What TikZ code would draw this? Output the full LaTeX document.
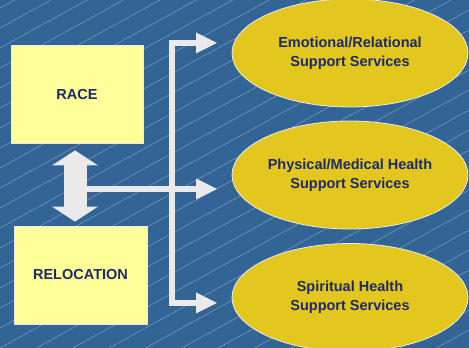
\documentclass[tikz,border=0pt]{standalone}
\usepackage{fontspec}
\setmainfont{Liberation Sans}
\usetikzlibrary{arrows.meta,shapes.geometric}
\definecolor{slideblue}{RGB}{51,100,150}
\definecolor{boxyellow}{RGB}{255,255,153}
\definecolor{ovalgold}{RGB}{227,198,30}
\definecolor{inkblue}{RGB}{28,42,105}
\definecolor{arrowgrey}{RGB}{234,234,234}
\tikzset{
    factor/.style={
        draw=arrowgrey,
        line width=0.8pt,
        fill=boxyellow,
        minimum width=132pt,
        minimum height=98pt,
        text=inkblue,
        font=\bfseries\fontsize{14.5}{18}\selectfont
    },
    service/.style={
        ellipse,
        draw=arrowgrey,
        line width=0.8pt,
        fill=ovalgold,
        minimum width=236pt,
        minimum height=108pt,
        inner sep=0pt,
        align=center,
        text=inkblue,
        font=\bfseries\fontsize{14.5}{19}\selectfont
    },
    fatarrow/.style={
        draw=arrowgrey,
        line width=23pt,
        {Triangle[length=15pt,width=46pt,line width=0pt]}-{Triangle[length=15pt,width=46pt,line width=0pt]}
    },
    branch/.style={
        draw=arrowgrey,
        line width=6.5pt,
        -{Triangle[length=21pt,width=21pt,line width=0pt]}
    }
}

\begin{document}
\begin{tikzpicture}[x=1pt,y=1pt]

    % background with thin diagonal lines
    \fill[slideblue] (0,0) rectangle (469,348);
    \begin{scope}
        \clip (0,0) rectangle (469,348);
        \foreach \k in {-13,...,18}
            \draw[white, opacity=0.4, line width=0.45pt] (0,\k*20) -- (469,\k*20+258);
    \end{scope}
    \useasboundingbox (0,0) rectangle (469,348);

    \node[factor] (race) at (77,253.5) {RACE};
    \node[factor, minimum width=133pt] (relocation) at (80.5,73) {RELOCATION};

    \node[service] (emotional) at (350,295) {Emotional/Relational\\Support Services};
    \node[service] (physical) at (350,173) {Physical/Medical Health\\Support Services};
    \node[service] (spiritual) at (350,50.5) {Spiritual Health\\Support Services};

    \coordinate (hub) at (80,159);
    \coordinate (spine) at (172,159);
    \coordinate (toemotional) at (217,305);
    \coordinate (tophysical) at (217,159);
    \coordinate (tospiritual) at (217,45);

    \draw[branch, {Triangle[length=21pt,width=21pt,line width=0pt]}-{Triangle[length=21pt,width=21pt,line width=0pt]}]
        (toemotional) -| (spine) |- (tospiritual);
    \draw[branch] (hub) -- (tophysical);

    \draw[fatarrow] ([xshift=-2pt,yshift=-6.5pt]race.south) -- ([xshift=-5.5pt,yshift=4pt]relocation.north);

\end{tikzpicture}
\end{document}
